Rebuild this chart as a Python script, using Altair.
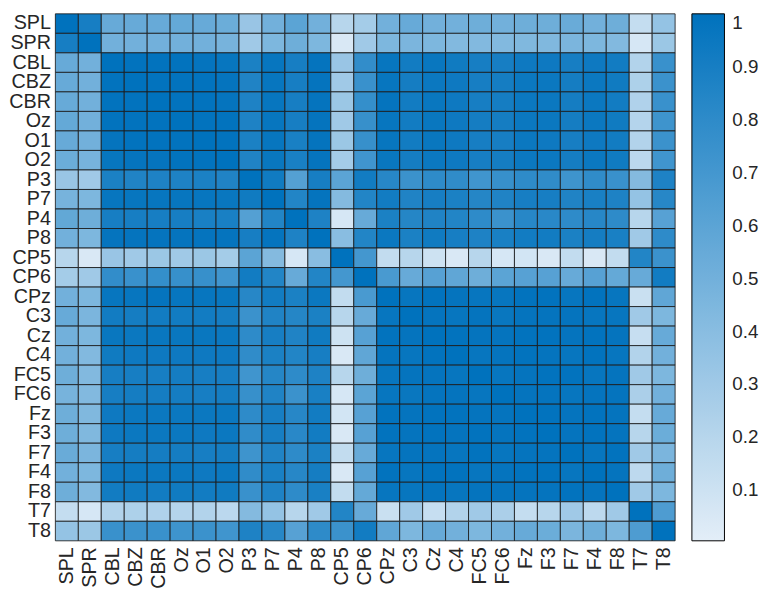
import altair as alt
import pandas as pd

labels = ["SPL", "SPR", "CBL", "CBZ", "CBR", "Oz", "O1", "O2", "P3", "P7", "P4", "P8",
          "CP5", "CP6", "CPz", "C3", "Cz", "C4", "FC5", "FC6", "Fz", "F3", "F7", "F4",
          "F8", "T7", "T8"]

r_SPL = [1.00, 0.90, 0.55, 0.55, 0.55, 0.56, 0.55, 0.53, 0.33, 0.50, 0.60, 0.50, 0.20, 0.28, 0.50, 0.55, 0.50, 0.50, 0.52, 0.50, 0.52, 0.52, 0.54, 0.50, 0.52, 0.14, 0.35]
r_SPR = [0.90, 1.00, 0.50, 0.50, 0.50, 0.50, 0.50, 0.48, 0.30, 0.45, 0.52, 0.45, 0.05, 0.30, 0.45, 0.46, 0.45, 0.43, 0.43, 0.43, 0.44, 0.44, 0.46, 0.45, 0.43, 0.06, 0.32]
r_CBL = [0.55, 0.50, 1.00, 0.99, 0.99, 0.99, 0.98, 0.97, 0.88, 0.97, 0.90, 0.98, 0.33, 0.78, 0.97, 0.92, 0.96, 0.93, 0.90, 0.90, 0.94, 0.94, 0.90, 0.94, 0.92, 0.22, 0.75]
r_CBZ = [0.55, 0.50, 0.99, 1.00, 0.99, 0.99, 0.99, 0.98, 0.86, 0.97, 0.90, 0.98, 0.30, 0.75, 0.97, 0.91, 0.95, 0.94, 0.90, 0.91, 0.95, 0.95, 0.91, 0.95, 0.93, 0.24, 0.74]
r_CBR = [0.55, 0.50, 0.99, 0.99, 1.00, 0.99, 0.99, 0.98, 0.87, 0.97, 0.90, 0.98, 0.32, 0.77, 0.98, 0.92, 0.96, 0.94, 0.90, 0.91, 0.95, 0.95, 0.91, 0.95, 0.92, 0.23, 0.75]
r_Oz = [0.56, 0.50, 0.99, 0.99, 0.99, 1.00, 0.99, 0.99, 0.87, 0.97, 0.90, 0.98, 0.30, 0.76, 0.97, 0.92, 0.96, 0.94, 0.91, 0.91, 0.95, 0.95, 0.91, 0.95, 0.93, 0.21, 0.73]
r_O1 = [0.55, 0.50, 0.98, 0.99, 0.99, 0.99, 1.00, 0.99, 0.88, 0.97, 0.89, 0.98, 0.32, 0.76, 0.97, 0.92, 0.96, 0.94, 0.90, 0.90, 0.95, 0.94, 0.90, 0.94, 0.92, 0.22, 0.74]
r_O2 = [0.53, 0.48, 0.97, 0.98, 0.98, 0.99, 0.99, 1.00, 0.86, 0.96, 0.89, 0.98, 0.28, 0.72, 0.96, 0.91, 0.95, 0.94, 0.90, 0.91, 0.95, 0.95, 0.91, 0.95, 0.93, 0.18, 0.72]
r_P3 = [0.33, 0.30, 0.88, 0.86, 0.87, 0.87, 0.88, 0.86, 1.00, 0.93, 0.63, 0.90, 0.60, 0.92, 0.83, 0.74, 0.80, 0.79, 0.72, 0.76, 0.80, 0.79, 0.73, 0.79, 0.75, 0.42, 0.87]
r_P7 = [0.48, 0.45, 0.97, 0.97, 0.97, 0.97, 0.97, 0.96, 0.93, 1.00, 0.85, 0.98, 0.42, 0.85, 0.92, 0.86, 0.90, 0.88, 0.84, 0.86, 0.90, 0.90, 0.86, 0.89, 0.87, 0.35, 0.83]
r_P4 = [0.57, 0.52, 0.90, 0.90, 0.90, 0.90, 0.89, 0.89, 0.63, 0.85, 1.00, 0.87, 0.06, 0.55, 0.88, 0.84, 0.86, 0.85, 0.80, 0.74, 0.83, 0.82, 0.80, 0.83, 0.80, 0.20, 0.62]
r_P8 = [0.50, 0.45, 0.98, 0.98, 0.98, 0.98, 0.98, 0.98, 0.90, 0.98, 0.87, 1.00, 0.40, 0.85, 0.95, 0.88, 0.93, 0.90, 0.87, 0.89, 0.92, 0.92, 0.88, 0.91, 0.89, 0.30, 0.80]
r_CP5 = [0.20, 0.05, 0.33, 0.30, 0.32, 0.30, 0.32, 0.28, 0.60, 0.42, 0.06, 0.40, 1.00, 0.70, 0.15, 0.20, 0.10, 0.05, 0.20, 0.06, 0.08, 0.05, 0.15, 0.05, 0.15, 0.85, 0.74]
r_CP6 = [0.28, 0.30, 0.78, 0.75, 0.77, 0.76, 0.76, 0.72, 0.92, 0.85, 0.55, 0.85, 0.70, 1.00, 0.68, 0.55, 0.62, 0.58, 0.52, 0.60, 0.62, 0.62, 0.55, 0.62, 0.56, 0.55, 0.92]
r_CPz = [0.50, 0.45, 0.97, 0.97, 0.98, 0.97, 0.97, 0.96, 0.83, 0.92, 0.88, 0.95, 0.15, 0.68, 1.00, 0.97, 0.99, 0.98, 0.97, 0.97, 0.99, 0.99, 0.97, 0.99, 0.97, 0.12, 0.58]
r_C3 = [0.55, 0.46, 0.92, 0.91, 0.92, 0.92, 0.92, 0.91, 0.74, 0.86, 0.84, 0.88, 0.20, 0.55, 0.97, 1.00, 0.98, 0.97, 0.98, 0.96, 0.98, 0.98, 0.98, 0.97, 0.97, 0.30, 0.45]
r_Cz = [0.50, 0.45, 0.96, 0.95, 0.96, 0.96, 0.96, 0.95, 0.80, 0.90, 0.86, 0.93, 0.10, 0.62, 0.99, 0.98, 1.00, 0.99, 0.98, 0.98, 0.99, 0.99, 0.98, 0.99, 0.98, 0.13, 0.55]
r_C4 = [0.50, 0.43, 0.93, 0.94, 0.94, 0.94, 0.94, 0.94, 0.79, 0.88, 0.85, 0.90, 0.05, 0.58, 0.98, 0.97, 0.99, 1.00, 0.97, 0.98, 0.99, 0.98, 0.97, 0.99, 0.97, 0.22, 0.50]
r_FC5 = [0.52, 0.43, 0.90, 0.90, 0.90, 0.91, 0.90, 0.90, 0.72, 0.84, 0.80, 0.87, 0.20, 0.52, 0.97, 0.98, 0.98, 0.97, 1.00, 0.97, 0.98, 0.99, 0.99, 0.97, 0.98, 0.30, 0.45]
r_FC6 = [0.48, 0.43, 0.90, 0.91, 0.91, 0.91, 0.90, 0.91, 0.76, 0.86, 0.74, 0.89, 0.06, 0.60, 0.97, 0.96, 0.98, 0.98, 0.97, 1.00, 0.98, 0.98, 0.97, 0.98, 0.98, 0.25, 0.50]
r_Fz = [0.52, 0.44, 0.94, 0.95, 0.95, 0.95, 0.95, 0.95, 0.80, 0.90, 0.83, 0.92, 0.08, 0.62, 0.99, 0.98, 0.99, 0.99, 0.98, 0.98, 1.00, 0.99, 0.98, 0.99, 0.98, 0.14, 0.55]
r_F3 = [0.52, 0.44, 0.94, 0.95, 0.95, 0.95, 0.94, 0.95, 0.79, 0.90, 0.82, 0.92, 0.05, 0.62, 0.99, 0.98, 0.99, 0.98, 0.99, 0.98, 0.99, 1.00, 0.98, 0.99, 0.98, 0.20, 0.53]
r_F7 = [0.54, 0.46, 0.90, 0.91, 0.91, 0.91, 0.90, 0.91, 0.73, 0.86, 0.80, 0.88, 0.15, 0.55, 0.97, 0.98, 0.98, 0.97, 0.99, 0.97, 0.98, 0.98, 1.00, 0.97, 0.99, 0.30, 0.46]
r_F4 = [0.50, 0.45, 0.94, 0.95, 0.95, 0.95, 0.94, 0.95, 0.79, 0.89, 0.83, 0.91, 0.05, 0.62, 0.99, 0.97, 0.99, 0.99, 0.97, 0.98, 0.99, 0.99, 0.97, 1.00, 0.98, 0.17, 0.52]
r_F8 = [0.52, 0.43, 0.92, 0.93, 0.92, 0.93, 0.92, 0.93, 0.75, 0.87, 0.80, 0.89, 0.15, 0.56, 0.97, 0.97, 0.98, 0.97, 0.98, 0.98, 0.98, 0.98, 0.99, 0.98, 1.00, 0.30, 0.45]
r_T7 = [0.14, 0.06, 0.22, 0.24, 0.23, 0.21, 0.22, 0.18, 0.42, 0.35, 0.20, 0.30, 0.85, 0.55, 0.12, 0.30, 0.13, 0.22, 0.30, 0.25, 0.14, 0.20, 0.30, 0.17, 0.30, 1.00, 0.66]
r_T8 = [0.35, 0.32, 0.75, 0.74, 0.75, 0.73, 0.74, 0.72, 0.87, 0.83, 0.62, 0.80, 0.74, 0.92, 0.58, 0.45, 0.55, 0.50, 0.45, 0.50, 0.55, 0.53, 0.46, 0.52, 0.45, 0.66, 1.00]

rows = [r_SPL, r_SPR, r_CBL, r_CBZ, r_CBR, r_Oz, r_O1, r_O2, r_P3, r_P7, r_P4, r_P8,
        r_CP5, r_CP6, r_CPz, r_C3, r_Cz, r_C4, r_FC5, r_FC6, r_Fz, r_F3, r_F7, r_F4,
        r_F8, r_T7, r_T8]

colorbar_ticks = [0.1, 0.2, 0.3, 0.4, 0.5, 0.6, 0.7, 0.8, 0.9, 1.0]

records = []
for i, rname in enumerate(labels):
    for j, cname in enumerate(labels):
        records.append({"row": rname, "col": cname, "value": rows[i][j]})
df = pd.DataFrame(records)

FONT = "Liberation Sans"
TXT = "#262626"

chart = alt.Chart(df).mark_rect(
    stroke="#1a1a1a", strokeWidth=1, strokeOpacity=0.85
).encode(
    x=alt.X("col:N", sort=labels, title=None,
            scale=alt.Scale(paddingInner=0, paddingOuter=0),
            axis=alt.Axis(labelAngle=270, labelAlign="right", labelBaseline="middle",
                          labelPadding=6, ticks=False, domain=False,
                          labelFont=FONT, labelFontSize=20, labelColor=TXT)),
    y=alt.Y("row:N", sort=labels, title=None,
            scale=alt.Scale(paddingInner=0, paddingOuter=0),
            axis=alt.Axis(labelPadding=5, ticks=False, domain=False,
                          labelFont=FONT, labelFontSize=20, labelColor=TXT)),
    color=alt.Color("value:Q",
                    scale=alt.Scale(domain=[0.005, 1.0], range=["#E3EEF8", "#0072BD"],
                                    interpolate="rgb"),
                    legend=alt.Legend(title=None, values=colorbar_ticks, format=".1~f",
                                      gradientLength=534, gradientThickness=33,
                                      gradientStrokeColor="#000000", gradientStrokeWidth=1,
                                      labelFont=FONT, labelFontSize=19, labelColor=TXT,
                                      labelOffset=8, labelOverlap=False, offset=17,
                                      padding=0, direction="vertical", orient="right")),
).properties(
    width=628, height=534,
    padding={"left": 0, "top": 1, "right": 0, "bottom": 0},
).configure_axis(
    grid=False,
).configure_view(stroke=None)

chart.save("out.html", embed_options={"renderer": "svg", "actions": False})
